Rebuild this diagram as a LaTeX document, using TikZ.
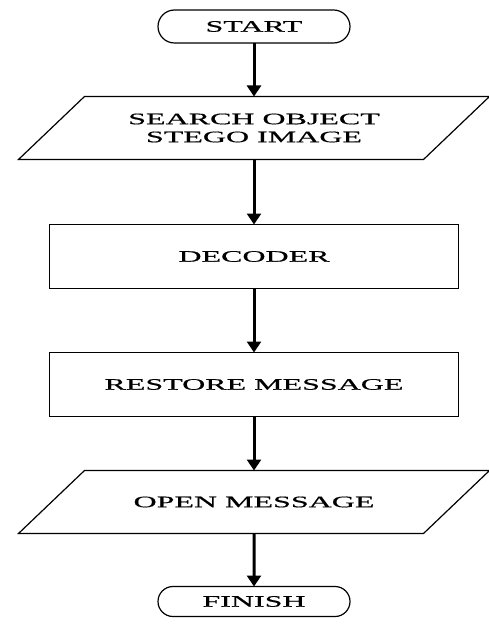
\documentclass[tikz,border=0pt]{standalone}
\usepackage{fontspec}
\setmainfont{Liberation Serif}[FakeStretch=2.0,FakeBold=0.6]
\usepackage{tikz}
\usetikzlibrary{positioning,shapes.misc,arrows.meta}
\tikzset{
  term/.style={rounded rectangle, draw=black, line width=1.2pt, minimum width=192pt, minimum height=33pt, inner sep=0pt, outer sep=0pt, font=\fontsize{16}{18}\selectfont},
  io/.style={rectangle, minimum width=405pt, minimum height=63pt, align=center, inner sep=0pt, outer sep=0pt, font=\fontsize{16}{18}\selectfont},
  prog/.style={rectangle, draw=black, line width=1.2pt, minimum width=409pt, minimum height=64pt, inner sep=0pt, outer sep=0pt, font=\fontsize{16}{18}\selectfont},
  slantbox/.style={draw=black, line width=1.2pt, line join=miter},
  line/.style={draw, line width=3pt, -{Triangle[width=14pt,length=11pt]}},
}
\begin{document}
\begin{tikzpicture}[x=1pt,y=-1pt]
  \useasboundingbox (0,0) rectangle (489,628);
  \node[term] (start) at (254,26.5) {START};
  \node[io,below=53.5pt of start] (search) {SEARCH OBJECT\\STEGO IMAGE};
  \node[prog,below=65pt of search] (decoder) {DECODER};
  \node[prog,below=64pt of decoder] (restore) {RESTORE MESSAGE};
  \node[io,below=54pt of restore] (open) {OPEN MESSAGE};
  \node[term,minimum height=30pt,below=53pt of open] (finish) {FINISH};
  % parallelogram outlines
  \path[slantbox] ([xshift=-33pt]search.south west) -- ([xshift=-33pt]search.south east)
    -- ([xshift=33pt]search.north east) -- ([xshift=33pt]search.north west) -- cycle;
  \path[slantbox] ([xshift=-33pt]open.south west) -- ([xshift=-33pt]open.south east)
    -- ([xshift=33pt]open.north east) -- ([xshift=33pt]open.north west) -- cycle;
  \path[line] (start) -- (search);
  \path[line] (search) -- (decoder);
  \path[line] (decoder) -- (restore);
  \path[line] (restore) -- (open);
  \path[line] (open) -- (finish);
\end{tikzpicture}
\end{document}
